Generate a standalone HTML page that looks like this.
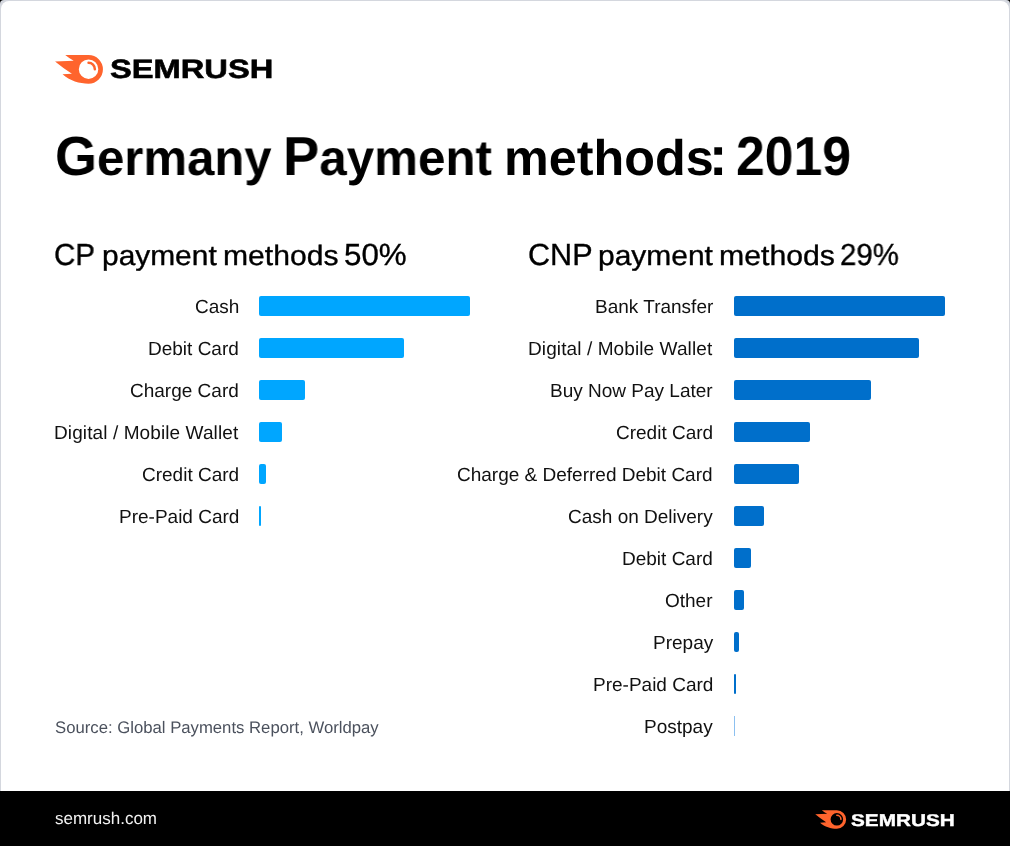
<!DOCTYPE html>
<html><head><meta charset="utf-8">
<style>
html,body{margin:0;padding:0}
body{width:1010px;height:846px;background:#000;position:relative;overflow:hidden;font-family:"Liberation Sans",sans-serif;text-rendering:geometricPrecision}
.cardo{position:absolute;left:0;top:0;width:1010px;height:791px;background:#d4d7de;border-radius:4px 4px 0 0}
.card{position:absolute;left:1px;top:1px;width:1008px;height:790px;background:#fff;border-radius:8px 8px 0 0}
.t{position:absolute;white-space:nowrap;line-height:1;will-change:transform}
.title{top:129.2px;font-size:50px;font-weight:bold;color:#000;transform-origin:0 0}
.title .u{font-size:55px}
.h2u{font-size:30.6px;color:#000;top:239.6px;transform-origin:0 0;-webkit-text-stroke:0.35px #000}
.h2l{font-size:28px;color:#000;top:241.8px;transform-origin:0 0;-webkit-text-stroke:0.35px #000}
.lbl{font-size:19px;color:#111;text-align:right}
.bar{position:absolute;height:20px;border-radius:2px}
.b1{background:#00A6FF;left:259px}
.b2{background:#006FCB;left:734px}
.src{left:55px;top:719.8px;font-size:16.72px;color:#4b515d}
.foot{left:55px;top:810px;font-size:17px;color:#f2f2f2}
</style></head><body>
<div class="cardo"></div><div class="card"></div>

<!-- top logo -->
<svg style="position:absolute;left:50px;top:50px" width="60" height="40" viewBox="0 0 1010 673">
<path fill="#FF642D" fill-rule="evenodd" d="M257 84 L649 83 A242 242 0 0 1 649 567 C500 567 330 520 211 409 L369 399 Q221 304 85 192 L399 179 Q322 140 257 84 Z M649 322 m-164 0 a164 164 0 1 0 328 0 a164 164 0 1 0 -328 0 Z"/>
<path fill="none" stroke="#FF642D" stroke-width="42" stroke-linecap="round" d="M649 216 A106 106 0 0 1 755 322"/>
</svg>
<div class="t" id="logo" style="left:110px;top:56.1px;font-size:26.4px;font-weight:bold;color:#000;transform-origin:0 0;transform:scaleX(1.237);-webkit-text-stroke:0.6px #000">SEMRUSH</div>

<div class="t title" style="left:55.3px;transform:scaleX(0.982)"><span class="u">G</span>ermany</div>
<div class="t title" style="left:283.45px;transform:scaleX(0.987)"><span class="u">P</span>ayment</div>
<div class="t title" style="left:503.9px;top:132.6px;transform:scaleX(1.006)">methods</div>
<div class="t title" style="left:709.4px"><span class="u">:</span></div>
<div class="t title" style="left:736.1px;transform:scaleX(0.94)"><span class="u">2019</span></div>

<div class="t h2u" style="left:54.40px;transform:scaleX(0.967)">CP</div>
<div class="t h2l" style="left:101.80px;transform:scaleX(1.068)">payment</div>
<div class="t h2l" style="left:222.85px;transform:scaleX(1.075)">methods</div>
<div class="t h2u" style="left:343.65px;transform:scaleX(1.024)">50%</div>
<div class="t h2u" style="left:527.50px;transform:scaleX(0.997)">CNP</div>
<div class="t h2l" style="left:598.10px;transform:scaleX(1.070)">payment</div>
<div class="t h2l" style="left:719.30px;transform:scaleX(1.080)">methods</div>
<div class="t h2u" style="left:840.40px;transform:scaleX(0.962)">29%</div>

<!-- left chart -->
<div class="t lbl" style="right:771px;top:297.6px">Cash</div>
<div class="t lbl" style="right:771px;top:339.6px">Debit Card</div>
<div class="t lbl" style="right:771px;top:381.6px">Charge Card</div>
<div class="t lbl" style="right:771.6px;top:423.6px;letter-spacing:0.1px">Digital / Mobile Wallet</div>
<div class="t lbl" style="right:771px;top:465.6px">Credit Card</div>
<div class="t lbl" style="right:771px;top:507.6px">Pre-Paid Card</div>
<div class="bar b1" style="top:296px;width:211.4px"></div>
<div class="bar b1" style="top:338px;width:145.2px"></div>
<div class="bar b1" style="top:380px;width:46.4px"></div>
<div class="bar b1" style="top:422px;width:23px"></div>
<div class="bar b1" style="top:464px;width:7.3px"></div>
<div class="bar b1" style="top:506px;width:2.2px;border-radius:1px"></div>

<!-- right chart -->
<div class="t lbl" style="right:297px;top:297.6px">Bank Transfer</div>
<div class="t lbl" style="right:297.6px;top:339.6px;letter-spacing:0.1px">Digital / Mobile Wallet</div>
<div class="t lbl" style="right:297px;top:381.6px">Buy Now Pay Later</div>
<div class="t lbl" style="right:297px;top:423.6px">Credit Card</div>
<div class="t lbl" style="right:297px;top:465.6px">Charge &amp; Deferred Debit Card</div>
<div class="t lbl" style="right:297px;top:507.6px">Cash on Delivery</div>
<div class="t lbl" style="right:297px;top:549.6px">Debit Card</div>
<div class="t lbl" style="right:297px;top:591.6px">Other</div>
<div class="t lbl" style="right:297px;top:633.6px">Prepay</div>
<div class="t lbl" style="right:297px;top:675.6px">Pre-Paid Card</div>
<div class="t lbl" style="right:297px;top:717.6px">Postpay</div>
<div class="bar b2" style="top:296px;width:211.4px"></div>
<div class="bar b2" style="top:338px;width:184.8px"></div>
<div class="bar b2" style="top:380px;width:137.2px"></div>
<div class="bar b2" style="top:422px;width:75.6px"></div>
<div class="bar b2" style="top:464px;width:65px"></div>
<div class="bar b2" style="top:506px;width:29.6px"></div>
<div class="bar b2" style="top:548px;width:17.2px"></div>
<div class="bar b2" style="top:590px;width:10px"></div>
<div class="bar b2" style="top:632px;width:4.8px"></div>
<div class="bar b2" style="top:674px;width:2.1px;border-radius:1px"></div>
<div class="bar b2" style="top:716px;width:1px;border-radius:0;background:#8cc0f0"></div>

<div class="t src" id="src">Source: Global Payments Report, Worldpay</div>

<!-- footer -->
<div class="t foot" id="foot">semrush.com</div>
<svg style="position:absolute;left:811.8px;top:806.5px" width="38.7" height="25.8" viewBox="0 0 1010 673">
<path fill="#FF642D" fill-rule="evenodd" d="M257 84 L649 83 A242 242 0 0 1 649 567 C500 567 330 520 211 409 L369 399 Q221 304 85 192 L399 179 Q322 140 257 84 Z M649 322 m-164 0 a164 164 0 1 0 328 0 a164 164 0 1 0 -328 0 Z"/>
<path fill="none" stroke="#FF642D" stroke-width="42" stroke-linecap="round" d="M649 216 A106 106 0 0 1 755 322"/>
</svg>
<div class="t" id="flogo" style="left:851px;top:811.8px;font-size:17px;font-weight:bold;color:#fff;transform-origin:0 0;transform:scaleX(1.22);-webkit-text-stroke:0.4px #fff">SEMRUSH</div>
</body></html>
